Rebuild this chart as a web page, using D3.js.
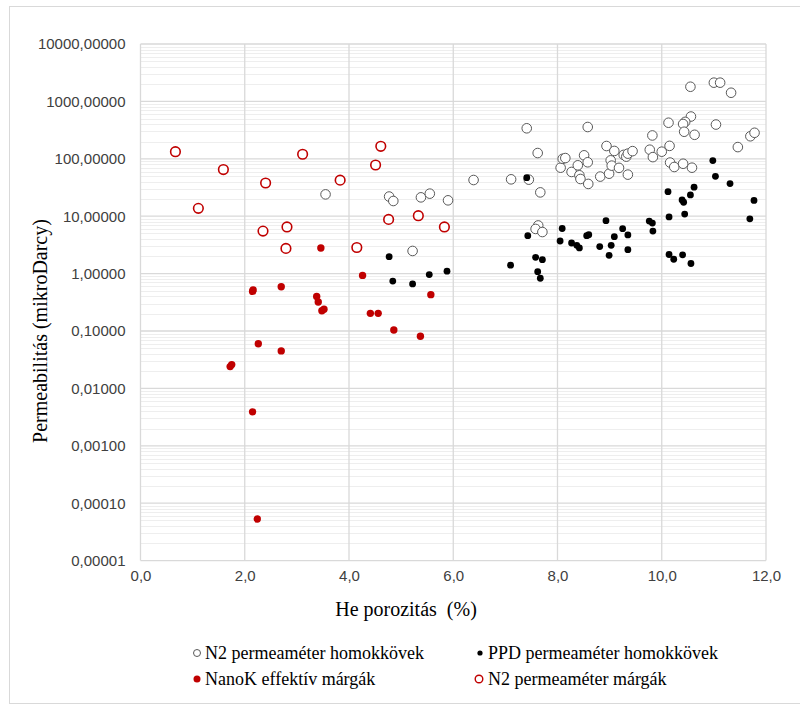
<!DOCTYPE html>
<html>
<head>
<meta charset="utf-8">
<script src="https://cdn.jsdelivr.net/npm/d3@7/dist/d3.min.js"></script>
<style>
  html, body { margin: 0; padding: 0; background: #fff; }
  svg { display: block; }
</style>
</head>
<body>
<svg id="chart" width="800" height="711"></svg>
<script>
// He porosity (%) vs permeability (mikroDarcy), four sample groups

// N2 permeaméter homokkövek: [porosity, permeability]
const n2Homokkovek = [
  [3.55, 24], [4.77, 22], [4.85, 18.4], [5.22, 2.48], [5.38, 21.3], [5.55, 24.7],
  [5.90, 18.9], [6.39, 42.7], [7.11, 43.9], [7.41, 340], [7.45, 43.3], [7.62, 126],
  [7.67, 26], [7.63, 6.9], [7.58, 6.0], [7.71, 5.3], [8.06, 70], [8.10, 100],
  [8.15, 103], [8.27, 59], [8.39, 77], [8.42, 51.6], [8.44, 44.5], [8.51, 115],
  [8.58, 87], [8.58, 358], [8.59, 36.5], [8.82, 49], [8.94, 167], [8.99, 55],
  [9.02, 94], [9.04, 76], [9.09, 137], [9.18, 69.5], [9.27, 117], [9.32, 109],
  [9.35, 123], [9.44, 136], [9.35, 53], [9.77, 144], [9.82, 255], [9.83, 107],
  [10.00, 133], [10.15, 168], [10.13, 425], [10.56, 545], [10.45, 440], [10.41, 404],
  [10.43, 296], [10.63, 262], [10.55, 1800], [11.00, 2120], [11.12, 2120], [11.33, 1415],
  [11.04, 395], [11.46, 160], [11.70, 247], [11.78, 284], [10.16, 86], [10.24, 72],
  [10.41, 82], [10.58, 70]
];

// PPD permeaméter homokkövek
const ppdHomokkovek = [
  [4.77, 1.97], [4.84, 0.74], [5.22, 0.66], [5.54, 0.96], [5.88, 1.10], [7.10, 1.40],
  [7.41, 46.9], [7.43, 4.57], [7.58, 1.92], [7.71, 1.75], [7.62, 1.08], [7.67, 0.83],
  [8.05, 3.70], [8.09, 6.1], [8.27, 3.41], [8.37, 3.11], [8.42, 2.80], [8.56, 4.57],
  [8.60, 4.75], [8.81, 2.96], [8.93, 8.35], [8.99, 2.08], [9.03, 3.11], [9.09, 4.40],
  [9.25, 6.07], [9.35, 4.71], [9.35, 2.61], [9.76, 8.24], [9.82, 7.60], [9.83, 5.50],
  [10.12, 26.8], [10.14, 9.7], [10.14, 2.15], [10.23, 1.78], [10.39, 19.2], [10.42, 17.5],
  [10.40, 2.12], [10.44, 10.9], [10.55, 23.5], [10.56, 1.50], [10.62, 32], [10.98, 93],
  [11.03, 49.5], [11.31, 37], [11.69, 9.0], [11.77, 18.8]
];

// NanoK effektív márgák
const nanoKMargak = [
  [3.46, 2.79], [4.26, 0.93], [2.16, 0.52], [2.15, 0.49], [2.70, 0.59], [3.38, 0.40],
  [3.41, 0.32], [3.48, 0.225], [3.52, 0.24], [4.41, 0.203], [4.56, 0.203], [5.57, 0.43],
  [4.86, 0.104], [5.37, 0.081], [2.26, 0.060], [2.70, 0.045], [1.72, 0.024], [1.75, 0.026],
  [2.15, 0.0039], [2.24, 0.000053]
];

// N2 permeaméter márgák
const n2Margak = [
  [0.67, 133], [1.11, 13.7], [1.59, 65], [2.35, 5.5], [2.40, 37.9], [2.81, 6.5],
  [2.79, 2.75], [3.11, 120], [3.83, 42.5], [4.15, 2.85], [4.51, 78], [4.61, 165],
  [4.76, 8.8], [5.33, 10.2], [5.83, 6.5]
];

const xTickValues = [0, 2, 4, 6, 8, 10, 12];
const yTickValues = [0.00001, 0.0001, 0.001, 0.01, 0.1, 1, 10, 100, 1000, 10000];

const seriesNames = [
  "N2 permeaméter homokkövek",
  "PPD permeaméter homokkövek",
  "NanoK effektív márgák",
  "N2 permeaméter márgák"
];

const svg = d3.select("#chart");

const plot = { left: 140.5, right: 766, top: 44, bottom: 560.6 };

const x = d3.scaleLinear().domain([0, 12]).range([plot.left, plot.right]);
const y = d3.scaleLog().domain([0.00001, 10000]).range([plot.bottom, plot.top]);

// outer chart frame
svg.append("rect")
  .attr("x", 9.5).attr("y", 6.5)
  .attr("width", 800).attr("height", 697)
  .attr("fill", "#fff")
  .attr("stroke", "#d9d9d9").attr("stroke-width", 1);

// minor log gridlines (2..9 of every decade)
const minorValues = [];
for (let e = -5; e < 4; e++) {
  for (let m = 2; m <= 9; m++) minorValues.push(m * Math.pow(10, e));
}
svg.append("g")
  .selectAll("line")
  .data(minorValues)
  .join("line")
  .attr("x1", plot.left).attr("x2", plot.right)
  .attr("y1", d => Math.round(y(d)) + 0.5).attr("y2", d => Math.round(y(d)) + 0.5)
  .attr("stroke", "#eeeeee").attr("stroke-width", 1);

// major horizontal gridlines
svg.append("g")
  .selectAll("line")
  .data(yTickValues)
  .join("line")
  .attr("x1", plot.left).attr("x2", plot.right)
  .attr("y1", d => y(d)).attr("y2", d => y(d))
  .attr("stroke", "#d9d9d9").attr("stroke-width", 1.3);

// vertical gridlines
svg.append("g")
  .selectAll("line")
  .data(xTickValues)
  .join("line")
  .attr("x1", d => x(d)).attr("x2", d => x(d))
  .attr("y1", plot.top).attr("y2", plot.bottom)
  .attr("stroke", "#d9d9d9").attr("stroke-width", 1.3);

const commaFmt = (spec) => {
  const f = d3.format(spec);
  return d => f(d).replace(".", ",");
};

// y axis labels
const yAxis = d3.axisLeft(y)
  .tickValues(yTickValues)
  .tickFormat(commaFmt(".5f"))
  .tickSize(0)
  .tickPadding(15);
const gy = svg.append("g")
  .attr("transform", `translate(${plot.left},0)`)
  .call(yAxis);
gy.select(".domain").remove();
gy.selectAll("text")
  .attr("fill", "#404040")
  .style("font-family", "'Liberation Sans', Arial, sans-serif")
  .style("font-size", "15px");

// x axis labels
const xAxis = d3.axisBottom(x)
  .tickValues(xTickValues)
  .tickFormat(commaFmt(".1f"))
  .tickSize(0)
  .tickPadding(10);
const gx = svg.append("g")
  .attr("transform", `translate(0,${plot.bottom})`)
  .call(xAxis);
gx.select(".domain").remove();
gx.selectAll("text")
  .attr("fill", "#404040")
  .style("font-family", "'Liberation Sans', Arial, sans-serif")
  .style("font-size", "15px");

// marker styles per series
const styles = [
  { fill: "#ffffff", stroke: "#595959", sw: 1, r: 4.8 },
  { fill: "#000000", stroke: "none", sw: 0, r: 3.4 },
  { fill: "#c00000", stroke: "none", sw: 0, r: 3.7 },
  { fill: "#ffffff", stroke: "#c00000", sw: 1.6, r: 4.8 }
];
const legendStyles = [
  { fill: "#ffffff", stroke: "#595959", sw: 1, r: 3.5 },
  { fill: "#000000", stroke: "none", sw: 0, r: 2.6 },
  { fill: "#c00000", stroke: "none", sw: 0, r: 3.5 },
  { fill: "#ffffff", stroke: "#c00000", sw: 1.4, r: 3.8 }
];
const allSeries = [n2Homokkovek, ppdHomokkovek, nanoKMargak, n2Margak];

allSeries.forEach((data, i) => {
  const s = styles[i];
  svg.append("g")
    .selectAll("circle")
    .data(data)
    .join("circle")
    .attr("cx", d => x(d[0]))
    .attr("cy", d => y(d[1]))
    .attr("r", s.r)
    .attr("fill", s.fill)
    .attr("stroke", s.stroke)
    .attr("stroke-width", s.sw);
});

const serif = "'Liberation Serif', 'Times New Roman', serif";

// axis titles
svg.append("text")
  .attr("x", 406)
  .attr("y", 616)
  .attr("text-anchor", "middle")
  .attr("fill", "#000")
  .style("white-space", "pre")
  .style("font-family", serif)
  .style("font-size", "20px")
  .text("He porozitás  (%)");

svg.append("text")
  .attr("transform", "translate(47,331) rotate(-90)")
  .attr("text-anchor", "middle")
  .attr("fill", "#000")
  .style("font-family", serif)
  .style("font-size", "20px")
  .text("Permeabilitás (mikroDarcy)");

// legend
const legendPos = [
  { mx: 197, tx: 205, y: 653 },
  { mx: 480, tx: 488, y: 653 },
  { mx: 197, tx: 205, y: 679 },
  { mx: 479, tx: 488, y: 679 }
];
const legend = svg.append("g");
seriesNames.forEach((name, i) => {
  const p = legendPos[i], s = legendStyles[i];
  legend.append("circle")
    .attr("cx", p.mx).attr("cy", p.y)
    .attr("r", s.r)
    .attr("fill", s.fill).attr("stroke", s.stroke).attr("stroke-width", s.sw);
  legend.append("text")
    .attr("x", p.tx).attr("y", p.y + 6)
    .attr("fill", "#000")
    .style("font-family", serif)
    .style("font-size", "18px")
    .text(name);
});
</script>
</body>
</html>
